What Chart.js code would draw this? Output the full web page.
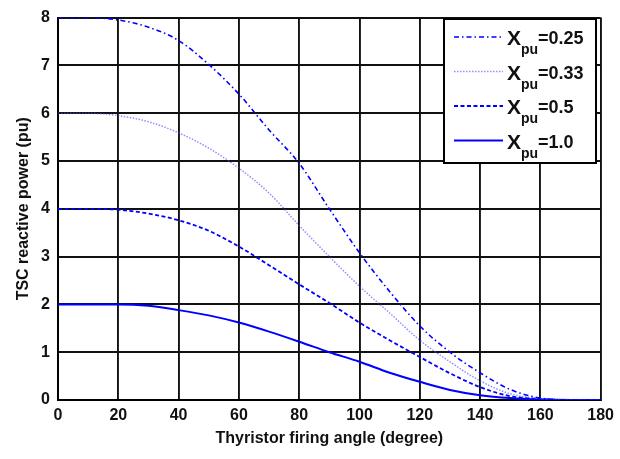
<!DOCTYPE html>
<html>
<head>
<meta charset="utf-8">
<script src="https://cdn.jsdelivr.net/npm/chart.js@4/dist/chart.umd.min.js"></script>
<style>
  html, body { margin: 0; padding: 0; background: #fff; }
  #wrap { width: 620px; height: 459px; position: relative; }
</style>
</head>
<body>
<div id="wrap"><canvas id="c" width="620" height="459"></canvas></div>
<script>
// ---- data ----
const angles = [0,10,20,30,40,50,60,70,80,90,100,110,120,130,140,150,160,170,180];
const q025 = [8,8,7.95,7.8,7.52,7.02,6.4,5.65,4.95,4.0,3.08,2.27,1.55,1.0,0.57,0.22,0.04,0.0,0];
const q033 = [6,6,5.95,5.82,5.59,5.27,4.85,4.33,3.65,3.0,2.38,1.82,1.25,0.8,0.4,0.13,0.03,0,0];
const q050 = [4,4,3.98,3.9,3.76,3.54,3.21,2.82,2.42,2.03,1.62,1.25,0.9,0.56,0.27,0.08,0.02,0,0];
const q100 = [2,2,2,1.97,1.88,1.77,1.62,1.43,1.22,1.0,0.8,0.57,0.38,0.21,0.1,0.04,0.01,0,0];
const seriesXpu = ['0.25','0.33','0.5','1.0'];
const xTicks = [0,20,40,60,80,100,120,140,160,180];
const yTicks = [0,1,2,3,4,5,6,7,8];
const xTitle = 'Thyristor firing angle (degree)';
const yTitle = 'TSC reactive power (pu)';

const FONT = '"Liberation Sans", Arial, sans-serif';
const toPts = arr => arr.map((v, i) => ({x: angles[i], y: v}));

const styles = [
  {color: 'rgb(0,0,255)', width: 1.6, dash: [5,3,1.5,3]},
  {color: 'rgba(70,70,255,0.6)', width: 1.5, dash: [1.5,1.5]},
  {color: 'rgb(0,0,255)', width: 1.8, dash: [4,2.5]},
  {color: 'rgb(0,0,255)', width: 2, dash: []}
];
const values = [q025, q033, q050, q100];

const datasets = values.map((v, i) => ({
  label: 'Xpu=' + seriesXpu[i],
  data: toPts(v),
  borderColor: styles[i].color,
  borderWidth: styles[i].width,
  borderDash: styles[i].dash,
  pointRadius: 0,
  fill: false,
  cubicInterpolationMode: 'monotone'
}));

const legendPlugin = {
  id: 'customLegend',
  afterDraw(chart) {
    const ctx = chart.ctx;
    const bx = 444, by = 19, bw = 152, bh = 144;
    ctx.save();
    ctx.fillStyle = '#fff';
    ctx.fillRect(bx, by, bw, bh);
    ctx.strokeStyle = '#000';
    ctx.lineWidth = 2;
    ctx.strokeRect(bx, by, bw, bh);
    chart.data.datasets.forEach((ds, i) => {
      const cy = 37 + i * 34.5;
      ctx.beginPath();
      ctx.setLineDash(ds.borderDash);
      ctx.strokeStyle = ds.borderColor;
      ctx.lineWidth = ds.borderWidth;
      ctx.moveTo(454, cy);
      ctx.lineTo(503, cy);
      ctx.stroke();
      ctx.setLineDash([]);
      ctx.fillStyle = '#111';
      ctx.textBaseline = 'alphabetic';
      ctx.textAlign = 'left';
      ctx.font = 'bold 21px ' + FONT;
      ctx.fillText('X', 507, cy + 8);
      ctx.font = 'bold 14px ' + FONT;
      ctx.fillText('pu', 521, cy + 17);
      ctx.font = 'bold 18px ' + FONT;
      ctx.fillText('=' + seriesXpu[i], 538, cy + 7);
    });
    ctx.restore();
  }
};

new Chart(document.getElementById('c'), {
  type: 'line',
  data: { datasets },
  options: {
    responsive: false,
    animation: false,
    layout: { padding: { left: 0, right: 18, top: 10, bottom: 0 } },
    plugins: { legend: { display: false }, tooltip: { enabled: false } },
    scales: {
      x: {
        type: 'linear', min: 0, max: 180,
        afterBuildTicks: s => { s.ticks = xTicks.map(v => ({value: v})); },
        afterFit: s => { s.height = 59; },
        grid: { color: '#111', lineWidth: 1.9, drawTicks: false },
        border: { color: '#000', width: 2 },
        ticks: { color: '#111', padding: 6, font: { family: FONT, size: 16, weight: 'bold' }, maxRotation: 0 },
        title: { display: true, text: xTitle, color: '#111', padding: { top: 0, bottom: 11 }, font: { family: FONT, size: 16, weight: 'bold' } }
      },
      y: {
        type: 'linear', min: 0, max: 8,
        afterBuildTicks: s => { s.ticks = yTicks.map(v => ({value: v})); },
        afterFit: s => { s.width = 58; },
        grid: { color: '#111', lineWidth: 1.9, drawTicks: false },
        border: { color: '#000', width: 2 },
        ticks: { color: '#111', padding: 8, font: { family: FONT, size: 16, weight: 'bold' } },
        title: { display: true, text: yTitle, color: '#111', padding: { top: 14, bottom: 0 }, font: { family: FONT, size: 16, weight: 'bold' } }
      }
    }
  },
  plugins: [legendPlugin]
});
</script>
</body>
</html>
